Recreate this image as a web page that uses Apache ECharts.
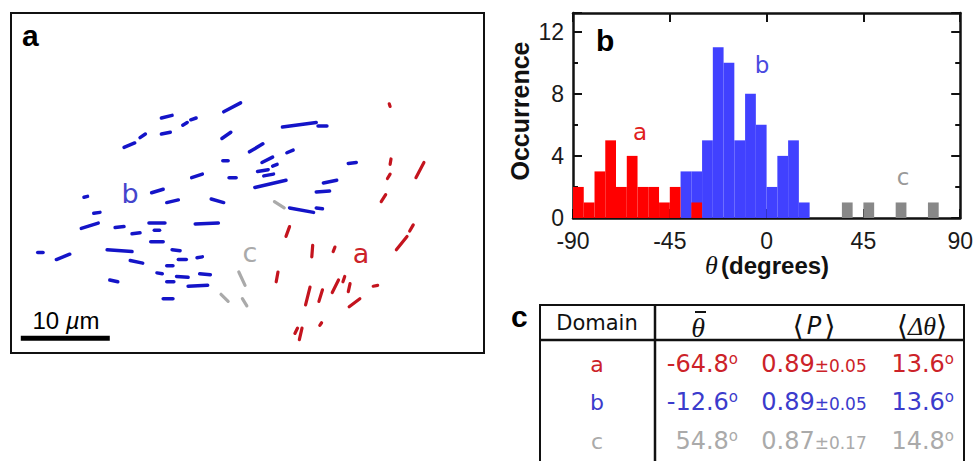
<!DOCTYPE html>
<html><head><meta charset="utf-8">
<script src="https://cdn.jsdelivr.net/npm/echarts@6/dist/echarts.min.js"></script>
<style>html,body{margin:0;padding:0;background:#fff}#c{width:976px;height:461px}</style>
</head><body><div id="c"></div>
<script>
// ---------- Panel b: histogram (degrees, 5-degree bins: bin start -> count)
const binWidth = 5;
const redBinStarts  = [-90,-85,-80,-75,-70,-65,-60,-55,-50,-45,-35];
const redCounts     = [2,1,3,5,2,4,2,2,1,2,1];
const blueBinStarts = [-40,-35,-30,-25,-20,-15,-10,-5,0,5,10,15];
const blueCounts    = [3,3,5,11,10,5,8,6,2,4,5,1];
const grayBinStarts = [35,45,60,75];
const grayCounts    = [1,1,1,1];
const xTickValues = [-90,-45,0,45,90];
const yTickValues = [0,4,8,12];

// ---------- Panel a: segments [x1,y1,x2,y2] in micrometres (y downwards)
const segBlue = [
[23.9,11.1,25.8,10.1],[16.9,11.8,18.1,11.5],[19.3,12.6,19.8,12.3],[20.2,12.0,20.8,11.8],
[16.9,13.6,17.9,13.4],[12.7,15.1,13.9,14.6],[14.5,14.0,15.1,13.6],[23.7,14.1,24.7,13.4],
[30.5,12.8,34.3,12.3],[34.5,12.7,35.5,12.7],[26.8,15.6,28.3,14.7],[31.0,15.7,31.7,15.4],
[23.8,16.6,24.4,16.6],[28.2,16.8,29.4,16.2],[29.4,17.2,29.9,17.0],[27.7,17.8,28.9,17.6],
[28.4,18.3,29.5,18.1],[20.3,18.5,21.5,18.1],[24.5,18.5,25.3,18.5],[27.4,19.6,30.9,18.8],
[37.9,16.9,38.8,16.8],[35.1,19.1,36.6,18.8],[34.3,20.1,35.8,20.0],[15.8,20.2,17.1,19.8],
[17.5,21.3,18.8,21.0],[22.5,20.9,23.9,21.3],[8.2,20.7,8.6,20.6],[31.3,21.9,34.0,22.4],
[34.3,21.9,35.0,22.0],[9.3,22.5,10.0,22.4],[7.9,24.2,9.8,23.6],[11.7,24.1,12.7,24.0],
[13.6,24.8,14.5,24.7],[15.5,23.6,17.3,23.6],[16.1,24.4,16.7,24.4],[15.7,25.7,17.1,25.7],
[20.7,23.7,23.3,23.6],[3.0,26.9,3.6,26.9],[5.1,27.7,6.6,27.1],[10.8,26.6,13.6,26.8],
[13.4,27.8,14.8,28.1],[18.1,26.6,19.0,26.7],[18.8,27.7,19.7,27.7],[20.9,27.5,21.5,27.4],
[17.5,28.4,18.2,28.4],[11.1,30.0,12.0,30.2],[16.4,29.2,17.0,29.3],[17.5,30.2,18.3,30.2],
[18.6,29.6,19.9,29.7],[21.2,29.3,22.4,29.4],[19.9,30.7,22.1,30.6],[17.1,32.1,18.2,32.1]
];
const segRed = [
[42.5,10.2,42.6,10.5],[42.6,17.0,42.7,16.4],[42.3,18.6,42.6,18.1],[45.5,18.5,46.4,16.8],
[41.6,21.2,42.1,20.4],[30.9,25.1,31.3,24.0],[33.8,27.4,33.9,26.1],[36.2,26.8,36.4,26.3],
[43.3,26.6,44.5,25.1],[44.8,24.5,45.2,23.8],[29.8,30.2,30.0,29.1],[33.1,32.8,33.6,30.8],
[34.6,32.4,35.0,31.1],[36.1,31.4,36.8,30.0],[37.3,30.2,37.5,29.6],[37.9,31.3,38.1,30.4],
[38.0,33.0,39.2,32.1],[40.7,30.7,41.2,30.6],[31.9,36.0,32.2,35.4],[32.4,36.7,32.7,35.4],
[34.7,35.1,34.9,34.8]
];
const segGray = [
[29.6,21.2,30.7,21.9],[25.6,29.1,26.3,30.6],[23.6,31.6,24.4,32.4],[26.0,32.1,26.5,32.9]
];
const scaleBar = [[1.1,36.55,11.1,36.55]];
const panelAWidthUm = 53.15, panelAHeightUm = 38.2;

// ---------- Panel c: table
const tableDomains = ['a','b','c'];
const tableTheta   = ['-64.8','-12.6','54.8'];
const tableP       = ['0.89','0.89','0.87'];
const tablePerr    = ['±0.05','±0.05','±0.17'];
const tableDTheta  = ['13.6','13.6','14.8'];

const SANS = '"Liberation Sans", Arial, sans-serif';
const DSANS = '"DejaVu Sans", sans-serif';
const SERIF = '"Liberation Serif", "DejaVu Serif", serif';
const rowColors = ['#cc2229', '#3b3bcc', '#aaaaaa'];
const rowY = [364, 402, 441];

function segSeries(data, color, width, cap) {
  return {
    type: 'custom', xAxisIndex: 0, yAxisIndex: 0, data: data,
    encode: {x: [0, 2], y: [1, 3]}, silent: true, clip: false, animation: false,
    renderItem: function (params, api) {
      const p1 = api.coord([api.value(0), api.value(1)]);
      const p2 = api.coord([api.value(2), api.value(3)]);
      return {type: 'line', shape: {x1: p1[0], y1: p1[1], x2: p2[0], y2: p2[1]},
        style: {stroke: color, lineWidth: width, lineCap: cap || 'round'}};
    }
  };
}
function histSeries(starts, counts, color) {
  return {
    type: 'custom', xAxisIndex: 1, yAxisIndex: 1,
    data: starts.map((s, i) => [s, counts[i]]),
    encode: {x: 0, y: 1}, silent: true, animation: false,
    renderItem: function (params, api) {
      const s = api.value(0), n = api.value(1);
      const p0 = api.coord([s, 0]);
      const p1 = api.coord([s + binWidth, n]);
      return {type: 'rect', shape: {x: p0[0], y: p1[1], width: p1[0] - p0[0], height: p0[1] - p1[1]},
        style: {fill: color}};
    }
  };
}

const axisLineStyle = {color: '#111', width: 2.5};
function histX(pos, labels) {
  return {gridIndex: 1, type: 'value', min: -90, max: 90, interval: 45, position: pos,
    axisLine: {show: true, onZero: false, lineStyle: axisLineStyle},
    axisTick: {show: true, inside: true, length: 9, lineStyle: {color: '#111', width: 2}},
    axisLabel: {show: labels, margin: 14, color: '#1a1a1a', fontSize: 23, lineHeight: 17, fontFamily: SANS,
      formatter: v => (xTickValues.indexOf(v) >= 0 ? String(v) : '')},
    splitLine: {show: false}};
}
function histY(pos, interval, len, line, labels) {
  return {gridIndex: 1, type: 'value', min: 0, max: 13.2, interval: interval, position: pos,
    axisLine: {show: line, onZero: false, lineStyle: axisLineStyle},
    axisTick: {show: true, inside: true, length: len, lineStyle: {color: '#111', width: 2}},
    axisLabel: {show: labels, margin: 9, color: '#1a1a1a', fontSize: 23, lineHeight: 17, fontFamily: SANS,
      formatter: v => (yTickValues.indexOf(v) >= 0 ? String(v) : '')},
    splitLine: {show: false}};
}

function txt(x, y, text, font, fill, align, extra) {
  return {type: 'text', x: x, y: y, silent: true,
    style: Object.assign({text: text, font: font, fill: fill, textAlign: align || 'center', textVerticalAlign: 'middle'}, extra || {})};
}
function ln(x1, y1, x2, y2, w) {
  return {type: 'line', silent: true, shape: {x1, y1, x2, y2}, style: {stroke: '#111', lineWidth: w}};
}

const graphics = [];
// panel letters
graphics.push(txt(22, 35.5, 'a', 'bold 30px ' + SANS, '#000', 'left'));
graphics.push(txt(596, 40.5, 'b', 'bold 30px ' + SANS, '#000', 'left'));
graphics.push(txt(511, 316.5, 'c', 'bold 30px ' + SANS, '#000', 'left'));
// panel a domain labels
graphics.push(txt(130, 193.5, 'b', '27px ' + DSANS, '#4444cc'));
graphics.push(txt(250, 252.5, 'c', '27px ' + DSANS, '#aaaaaa'));
graphics.push(txt(361, 253.5, 'a', '27px ' + DSANS, '#cc2229'));
// scale bar label
graphics.push({type: 'text', x: 66, y: 320.5, silent: true, style: {
  text: '{n|10 }{u|µ}{n|m}', textAlign: 'center', textVerticalAlign: 'middle',
  rich: {n: {fontSize: 24, fontFamily: SANS, fill: '#000'},
         u: {fontSize: 24, fontFamily: SANS, fontStyle: 'italic', fill: '#000'}}}});
// histogram domain labels
graphics.push(txt(640, 132, 'a', '23px ' + DSANS, '#e02020'));
graphics.push(txt(762, 65, 'b', '23px ' + DSANS, '#4a4ae0'));
graphics.push(txt(903, 177, 'c', '23px ' + DSANS, '#999999'));
// histogram axis names
graphics.push({type: 'text', x: 520, y: 111, rotation: Math.PI / 2, silent: true,
  style: {text: 'Occurrence', font: 'bold 25px ' + SANS, fill: '#111', textAlign: 'center', textVerticalAlign: 'middle'}});
graphics.push({type: 'text', x: 767, y: 265, silent: true, style: {
  text: '{t|θ} {b|(degrees)}', textAlign: 'center', textVerticalAlign: 'middle',
  rich: {t: {fontSize: 26, fontFamily: SERIF, fontStyle: 'italic', fill: '#111', lineHeight: 20},
         b: {fontSize: 24, fontFamily: SANS, fontWeight: 'bold', fill: '#111', lineHeight: 20}}}});

// table frame
graphics.push({type: 'rect', silent: true, shape: {x: 540, y: 305, width: 424, height: 170},
  style: {fill: 'none', stroke: '#111', lineWidth: 2}});
graphics.push(ln(540, 340, 964, 340, 2.5));
graphics.push(ln(655, 305, 655, 475, 2.5));
// header
graphics.push(txt(597, 323, 'Domain', '21px ' + DSANS, '#111'));
graphics.push(txt(698, 327, 'θ', 'italic 28px ' + SERIF, '#111'));
graphics.push(ln(695, 312, 706, 312, 2));
graphics.push({type: 'text', x: 814, y: 326, silent: true, style: {
  text: '{a|⟨}{p|P}{a|⟩}', textAlign: 'center', textVerticalAlign: 'middle',
  rich: {a: {fontSize: 29, fontFamily: DSANS, fill: '#111'},
         p: {fontSize: 24, fontFamily: DSANS, fontStyle: 'italic', fill: '#111', padding: [0, 3, 0, 3]}}}});
graphics.push({type: 'text', x: 922, y: 326, silent: true, style: {
  text: '{a|⟨}{d|Δθ}{a|⟩}', textAlign: 'center', textVerticalAlign: 'middle',
  rich: {a: {fontSize: 29, fontFamily: DSANS, fill: '#111'},
         d: {fontSize: 26, fontFamily: SERIF, fontStyle: 'italic', fill: '#111'}}}});
// rows
tableDomains.forEach((d, i) => {
  const col = rowColors[i], y = rowY[i];
  graphics.push(txt(597, y, d, '22px ' + DSANS, col));
  const deg = {n: {fontSize: 24, fontFamily: DSANS, fill: col, lineHeight: 26},
               o: {fontSize: 15, fontFamily: DSANS, fill: col, verticalAlign: 'top', lineHeight: 13}};
  graphics.push({type: 'text', x: 738, y: y, silent: true, style: {
    text: '{n|' + tableTheta[i] + '}{o|o}', textAlign: 'right', textVerticalAlign: 'middle', rich: deg}});
  graphics.push({type: 'text', x: 814, y: y, silent: true, style: {
    text: '{n|' + tableP[i] + '}{e|' + tablePerr[i] + '}', textAlign: 'center', textVerticalAlign: 'middle',
    rich: {n: {fontSize: 24, fontFamily: DSANS, fill: col, lineHeight: 26},
           e: {fontSize: 17, fontFamily: DSANS, fill: col, verticalAlign: 'middle', lineHeight: 17, padding: [3, 0, 0, 0]}}}});
  graphics.push({type: 'text', x: 954, y: y, silent: true, style: {
    text: '{n|' + tableDTheta[i] + '}{o|o}', textAlign: 'right', textVerticalAlign: 'middle', rich: deg}});
});

const chart = echarts.init(document.getElementById('c'), null, {renderer: 'svg'});
chart.setOption({
  animation: false,
  backgroundColor: '#fff',
  grid: [
    {left: 11, top: 13, width: 473, height: 340, show: true, borderColor: '#111', borderWidth: 2, backgroundColor: 'transparent'},
    {left: 573, top: 13, width: 388, height: 205, show: false}
  ],
  xAxis: [
    {gridIndex: 0, type: 'value', min: 0, max: panelAWidthUm, show: false},
    histX('bottom', true),
    histX('top', false)
  ],
  yAxis: [
    {gridIndex: 0, type: 'value', min: 0, max: panelAHeightUm, inverse: true, show: false},
    histY('left', 4, 9, true, true),
    histY('left', 2, 5, false, false),
    histY('right', 4, 9, true, false),
    histY('right', 2, 5, false, false)
  ],
  series: [
    segSeries(segBlue, '#1414c8', 3.5),
    segSeries(segRed, '#c4141e', 3.2),
    segSeries(segGray, '#aaaaaa', 3.2),
    segSeries(scaleBar, '#000', 5, 'butt'),
    histSeries(blueBinStarts, blueCounts, '#4141ff'),
    histSeries(redBinStarts, redCounts, '#ff0000'),
    histSeries(grayBinStarts, grayCounts, '#888888')
  ],
  graphic: graphics
});
</script></body></html>
